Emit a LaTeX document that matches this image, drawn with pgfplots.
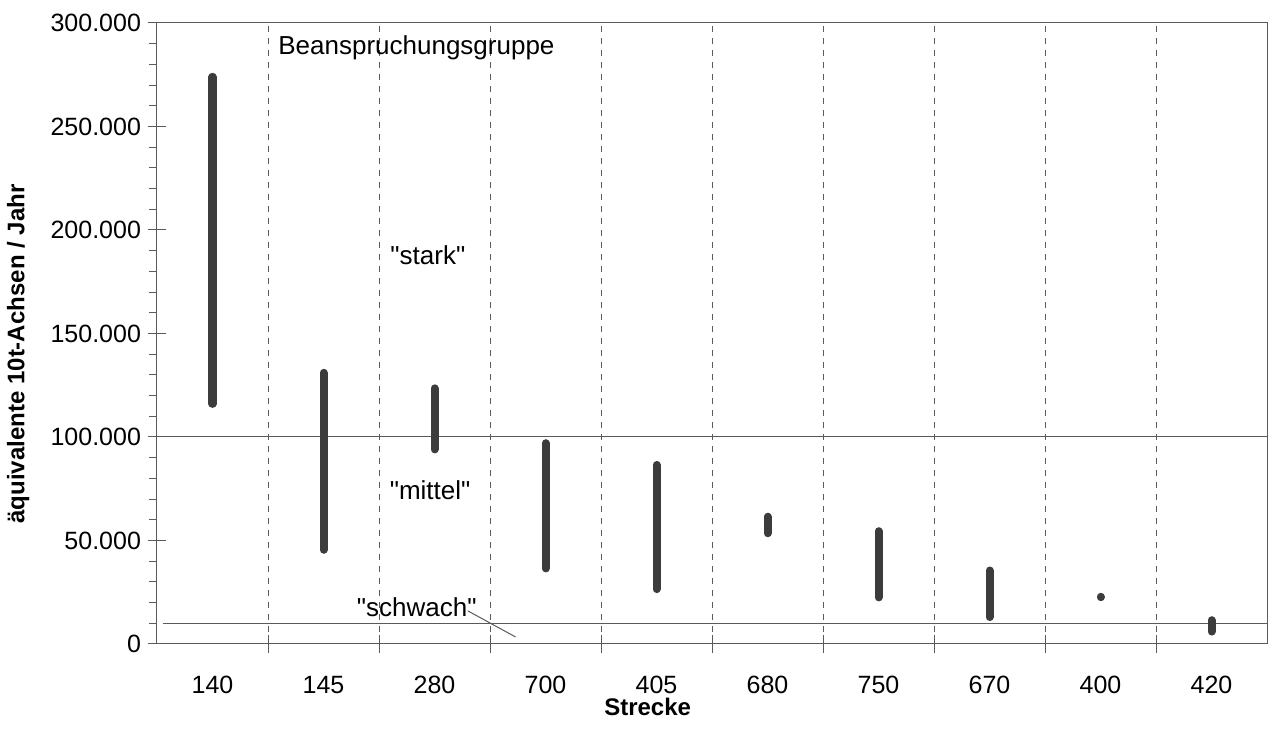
\documentclass[border=0pt]{standalone}
\usepackage{pgfplots}
\pgfplotsset{compat=1.18}
\usepackage{fontspec}
\setmainfont{Liberation Sans}[Ligatures=TeXOff]
\definecolor{bar}{RGB}{60,60,60}
\definecolor{ln}{RGB}{90,90,90}
\begin{document}
\begin{tikzpicture}
\begin{axis}[
  scale only axis,
  width=555pt, height=310.5pt,
  xmin=-0.5, xmax=9.5,
  ymin=0, ymax=300000,
  xtick={0.5,1.5,...,8.5},
  xticklabels={},
  xmajorgrids=true,
  major x grid style={dashed, ln, line width=0.5pt},
  extra x ticks={0,...,9},
  extra x tick labels={140,145,280,700,405,680,750,670,400,420},
  extra x tick style={major tick length=0pt, grid=none},
  ytick={0,50000,...,300000},
  minor y tick num=4,
  major tick length=9pt,
  minor tick length=4pt,
  minor y tick style={xshift=-2pt},
  tick align=center,
  xtick pos=bottom, ytick pos=left,
  scaled y ticks=false,
  y tick label style={/pgf/number format/fixed, /pgf/number format/1000 sep={.}, /pgf/number format/assume math mode=true, xshift=0pt},
  ticklabel style={font=\fontsize{12.5}{14}\selectfont},
  xticklabel style={yshift=-12.5pt},
  axis line style={ln, line width=0.5pt},
  tick style={ln, line width=0.5pt},
  xlabel={\textbf{Strecke}},
  ylabel={\textbf{äquivalente 10t-Achsen / Jahr}},
  xlabel style={at={(axis description cs:0.442,0)}, anchor=center, yshift=-31.5pt, font=\fontsize{12}{14}\selectfont},
  ylabel style={at={(axis description cs:-0.125,0.467)}, anchor=center, font=\fontsize{12}{14}\selectfont},
  clip=false,
]
% group boundaries
\addplot[ln, line width=0.5pt] coordinates {(-0.5,100000) (9.5,100000)};
\addplot[ln, line width=0.5pt] coordinates {(-0.45,10000) (9.5,10000)};
% ranges
\addplot[bar, line width=4pt, line cap=round] coordinates {(0,116000) (0,274000)};
\addplot[bar, line width=4pt, line cap=round] coordinates {(1,45500) (1,131000)};
\addplot[bar, line width=4pt, line cap=round] coordinates {(2,94000) (2,123500)};
\addplot[bar, line width=4pt, line cap=round] coordinates {(3,36500) (3,97000)};
\addplot[bar, line width=4pt, line cap=round] coordinates {(4,26500) (4,86500)};
\addplot[bar, line width=4pt, line cap=round] coordinates {(5,53500) (5,61500)};
\addplot[bar, line width=4pt, line cap=round] coordinates {(6,22500) (6,54500)};
\addplot[bar, line width=4pt, line cap=round] coordinates {(7,13000) (7,35500)};
\addplot[bar, line width=4pt, line cap=round] coordinates {(8,22600) (8,22800)};
\addplot[bar, line width=4pt, line cap=round] coordinates {(9,6000) (9,11500)};
% annotations
\node[anchor=west, font=\fontsize{13}{15}\selectfont, inner sep=0pt] at (axis cs:0.59,288000) {Beanspruchungsgruppe};
\node[font=\fontsize{13}{15}\selectfont, inner sep=0pt] at (axis cs:1.94,188000) {"stark"};
\node[font=\fontsize{13}{15}\selectfont, inner sep=0pt] at (axis cs:1.96,74500) {"mittel"};
\node[font=\fontsize{13}{15}\selectfont, inner sep=0pt] at (axis cs:1.84,18000) {"schwach"};
\draw[ln, line width=0.5pt] (axis cs:2.30,16000) -- (axis cs:2.73,3400);
\end{axis}
\path[use as bounding box] ([xshift=-78.5pt,yshift=-45.5pt]current axis.south west) rectangle ([xshift=5pt,yshift=11.5pt]current axis.north east);
\end{tikzpicture}
\end{document}
